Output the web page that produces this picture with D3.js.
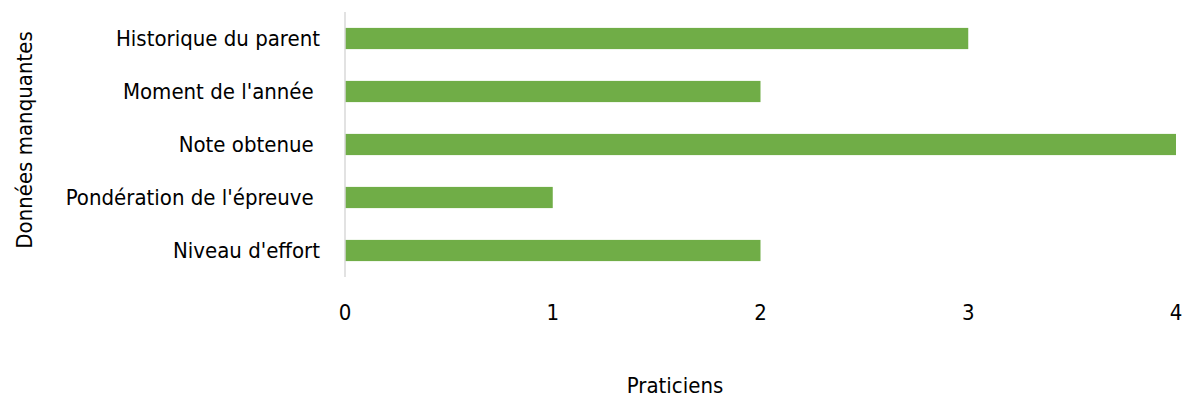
<!DOCTYPE html>
<html><head><meta charset="utf-8">
<script src="https://cdn.jsdelivr.net/npm/d3@7"></script>
<style>
body{margin:0;background:#fff;}
text{font-family:"Liberation Sans Narrow","DejaVu Sans Condensed",sans-serif;fill:#000;white-space:pre;}
</style></head>
<body><svg id="c" width="1188" height="397"></svg>
<script>
const categories = ["Historique du parent","Moment de l'année ","Note obtenue ","Pondération de l'épreuve ","Niveau d'effort"];
const values = [3,2,4,1,2];
const xTicks = [0,1,2,3,4];
const xTitle = "Praticiens";
const yTitle = "Données manquantes";

const svg = d3.select("#c");
const m = {left:345, right:1176, top:12, bottom:277};
const x = d3.scaleLinear().domain([0,4]).range([m.left,m.right]);
const y = d3.scaleBand().domain(categories).range([m.top,m.bottom]).paddingInner(0.6).paddingOuter(0.3);

svg.selectAll("rect.bar").data(values).join("rect")
  .attr("class","bar")
  .attr("x",x(0)).attr("y",(d,i)=>y(categories[i]))
  .attr("width",d=>x(d)-x(0)).attr("height",y.bandwidth())
  .attr("fill","#70AD47");

svg.append("line").attr("x1",x(0)).attr("x2",x(0)).attr("y1",m.top).attr("y2",m.bottom)
  .attr("stroke","#d9d9d9").attr("stroke-width",1.5);

const fs = 22;
svg.selectAll("text.cat").data(categories).join("text")
  .attr("class","cat")
  .attr("x",320).attr("y",d=>y(d)+y.bandwidth()/2)
  .attr("dy","0.35em").attr("text-anchor","end")
  .attr("font-size",fs).text(d=>d);

svg.selectAll("text.xt").data(xTicks).join("text")
  .attr("class","xt").attr("x",d=>x(d)).attr("y",312).attr("dy","0.35em")
  .attr("text-anchor","middle").attr("font-size",fs).text(d=>d);

svg.append("text").attr("x",675).attr("y",385).attr("dy","0.35em").attr("text-anchor","middle")
  .attr("font-size",fs).text(xTitle);

svg.append("text").attr("transform","translate(24,140) rotate(-90)").attr("dy","0.35em")
  .attr("text-anchor","middle").attr("font-size",fs).text(yTitle);
</script></body></html>
